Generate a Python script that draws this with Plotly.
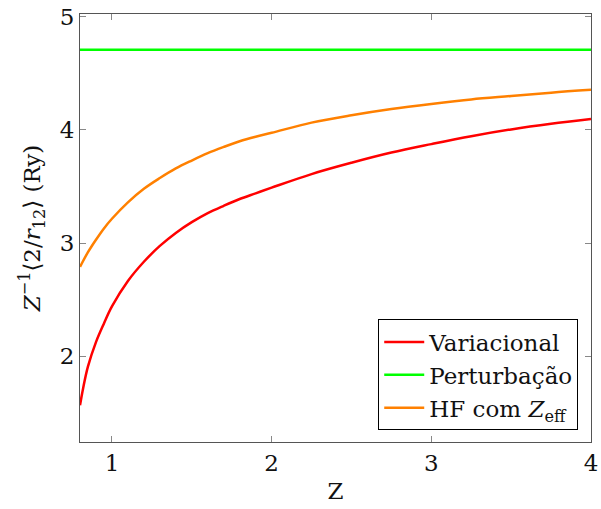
import plotly.graph_objects as go

# Z values and series
z_var = [0.80, 0.82, 0.85, 0.90, 0.95, 1.00, 1.10, 1.20, 1.30, 1.40, 1.50, 1.60, 1.70, 1.80,
         1.90, 2.00, 2.25, 2.50, 2.75, 3.00, 3.25, 3.50, 3.75, 4.00]
y_var = [1.566, 1.72, 1.91, 2.125, 2.29, 2.44, 2.665, 2.835, 2.975, 3.09, 3.185, 3.265, 3.33, 3.39,
         3.44, 3.49, 3.61, 3.71, 3.80, 3.875, 3.945, 4.005, 4.055, 4.097]

z_pert = [0.80, 4.00]
y_pert = [4.71, 4.71]

z_hf = [0.80, 0.85, 0.90, 0.95, 1.00, 1.10, 1.20, 1.30, 1.40, 1.50, 1.60, 1.70, 1.80, 1.90,
        2.00, 2.25, 2.50, 2.75, 3.00, 3.25, 3.50, 3.75, 4.00]
y_hf = [2.79, 2.92, 3.03, 3.13, 3.215, 3.36, 3.48, 3.575, 3.66, 3.73, 3.795, 3.85, 3.90, 3.94,
        3.975, 4.065, 4.13, 4.185, 4.23, 4.27, 4.30, 4.33, 4.355]

x_ticks = [1, 2, 3, 4]
y_ticks = [2, 3, 4, 5]

FONT = "DejaVu Serif"
TXT = "#111111"
FS = 23

fig = go.Figure()
fig.add_trace(go.Scatter(x=z_var, y=y_var, mode="lines", name="Variacional",
                         line=dict(color="#ff0000", width=2.5, shape="spline")))
fig.add_trace(go.Scatter(x=z_pert, y=y_pert, mode="lines", name="Perturbação",
                         line=dict(color="#00ff00", width=2.5)))
fig.add_trace(go.Scatter(x=z_hf, y=y_hf, mode="lines", name="HF com <i>Z</i><sub>eff</sub>",
                         line=dict(color="#ff8000", width=2.5, shape="spline")))

axis_common = dict(showgrid=False, zeroline=False, showline=True, linecolor="#555555",
                   linewidth=1.2, mirror="allticks", ticks="inside", ticklen=6,
                   tickcolor="#888888", tickwidth=1, automargin=False,
                   tickfont=dict(family=FONT, size=FS, color=TXT))

fig.update_xaxes(range=[0.8, 4.0], tickvals=x_ticks, ticktext=[str(t) for t in x_ticks],
                 title=dict(text="Z", font=dict(family=FONT, size=FS, color=TXT), standoff=8),
                 **axis_common)
fig.update_yaxes(range=[1.242, 5.025], tickvals=y_ticks, ticktext=[str(t) for t in y_ticks],
                 title=dict(text="<i>Z</i><sup>−1</sup>⟨2/<i>r</i><sub>12</sub>⟩ (Ry)",
                            font=dict(family=FONT, size=FS, color=TXT), standoff=12),
                 **axis_common)

fig.update_layout(
    width=601, height=509,
    margin=dict(l=80, r=10, t=14, b=67),
    plot_bgcolor="white", paper_bgcolor="white",
    legend=dict(x=0.975, y=0.027, xanchor="right", yanchor="bottom",
                bordercolor="black", borderwidth=1, bgcolor="white",
                font=dict(family=FONT, size=FS, color=TXT),
                tracegroupgap=0, itemwidth=40),
)

fig.write_html("out.html")
